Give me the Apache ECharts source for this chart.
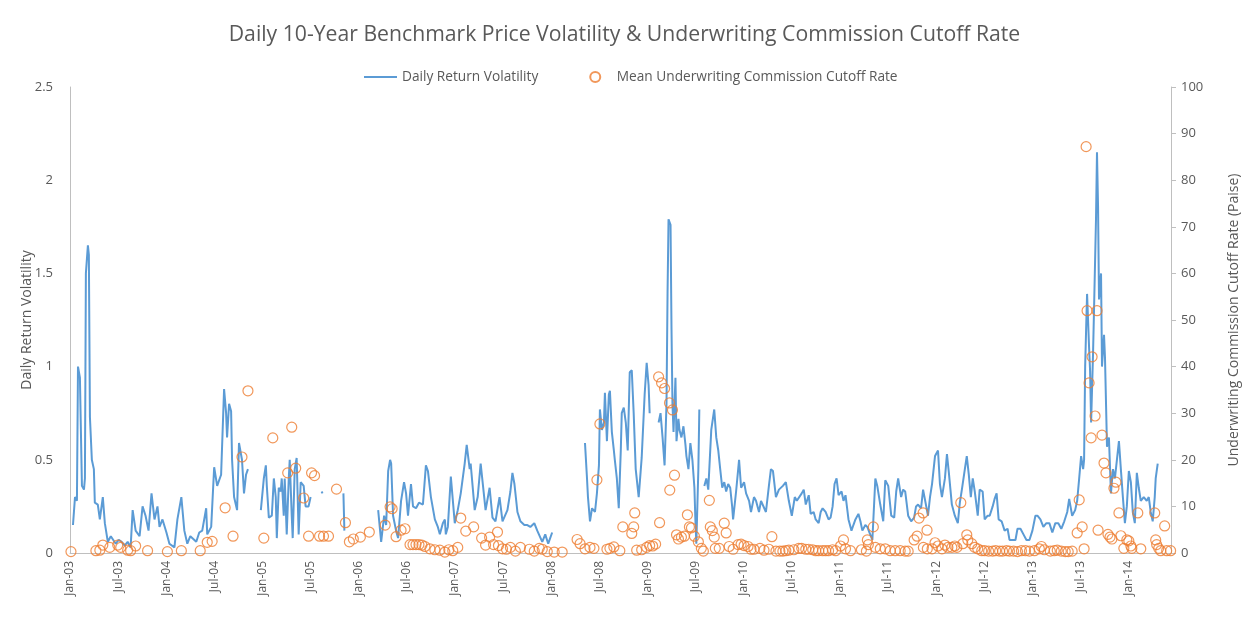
<!DOCTYPE html>
<html>
<head>
<meta charset="utf-8">
<script src="https://cdn.jsdelivr.net/npm/echarts@6/dist/echarts.min.js"></script>
<style>
html,body{margin:0;padding:0;background:#fff;}
#chart{width:1249px;height:628px;}
</style>
</head>
<body>
<div id="chart"></div>
<script>
// Time is expressed in decimal years (e.g. 2008.5 = start of July 2008)
const volDate = [
2003.031,2003.052,2003.072,2003.083,2003.103,2003.124,2003.145,2003.155,2003.165,2003.186,2003.196,2003.207,2003.227,2003.248,2003.258,2003.289,2003.310,2003.341,2003.362,2003.393,2003.424,2003.444,2003.475,2003.506,2003.537,2003.568,2003.599,2003.630,2003.651,2003.682,2003.723,2003.754,2003.785,2003.816,2003.847,2003.878,2003.909,2003.930,2003.961,
2004.002,2004.033,2004.085,2004.116,2004.157,2004.188,2004.219,2004.250,2004.312,2004.343,2004.374,2004.415,2004.426,2004.467,2004.498,2004.529,2004.570,2004.601,2004.622,2004.632,2004.653,2004.674,2004.684,2004.705,2004.725,2004.736,2004.756,2004.787,2004.808,2004.829,2004.849,2004.911,
2004.983,2005.014,2005.035,2005.045,2005.066,2005.097,2005.118,2005.138,2005.149,2005.169,2005.190,2005.200,2005.221,2005.231,2005.252,2005.273,2005.283,2005.304,2005.314,2005.335,2005.355,2005.376,2005.397,2005.428,2005.448,2005.479,2005.500,2005.562,
2005.614,2005.624,2005.738,2005.841,2005.851,2005.996,
2006.202,2006.233,2006.264,2006.285,2006.306,2006.326,2006.337,2006.357,2006.388,2006.409,2006.440,2006.471,2006.492,2006.512,2006.543,2006.564,2006.595,2006.626,2006.667,2006.698,2006.719,2006.750,2006.791,2006.822,2006.843,2006.874,2006.895,2006.905,2006.926,2006.957,2006.977,2006.998,
2007.029,2007.060,2007.101,2007.122,2007.153,2007.163,2007.205,2007.236,2007.267,2007.287,2007.318,2007.360,2007.390,2007.421,2007.463,2007.494,2007.545,2007.576,2007.597,2007.618,2007.649,2007.680,2007.721,2007.752,2007.783,2007.824,2007.855,2007.907,2007.938,2007.969,2008.010,2008.165,
2008.351,2008.372,2008.382,2008.403,2008.424,2008.455,2008.475,2008.496,2008.506,2008.527,2008.548,2008.558,2008.579,2008.599,2008.610,2008.630,2008.651,2008.661,2008.682,2008.702,2008.723,2008.733,2008.754,2008.775,2008.795,2008.816,2008.837,2008.857,2008.878,2008.909,2008.940,2008.971,2008.992,2009.012,2009.023,2009.064,
2009.116,2009.136,2009.157,2009.178,2009.198,2009.209,2009.219,2009.240,2009.250,2009.260,2009.271,2009.291,2009.302,2009.322,2009.333,2009.353,2009.374,2009.395,2009.405,2009.426,2009.446,2009.467,2009.488,2009.498,2009.508,2009.529,2009.539,2009.565,
2009.591,2009.612,2009.632,2009.663,2009.694,2009.715,2009.736,2009.756,2009.777,2009.798,2009.818,2009.839,2009.860,2009.880,2009.890,2009.921,2009.952,2009.973,
2010.004,2010.025,2010.056,2010.076,2010.107,2010.128,2010.159,2010.180,2010.200,2010.231,2010.262,2010.283,2010.304,2010.335,2010.366,2010.386,2010.407,2010.438,2010.469,2010.500,2010.531,2010.552,2010.572,2010.603,2010.624,2010.645,2010.676,2010.696,2010.727,2010.748,2010.779,2010.800,2010.820,2010.851,2010.882,2010.903,2010.924,2010.944,2010.965,2010.986,
2011.017,2011.037,2011.058,2011.089,2011.120,2011.140,2011.161,2011.192,2011.213,2011.233,2011.264,2011.285,2011.306,2011.337,2011.368,2011.388,2011.419,2011.450,2011.471,2011.502,2011.533,2011.564,2011.585,2011.605,2011.636,2011.657,2011.678,2011.709,2011.740,2011.771,2011.791,2011.812,2011.843,2011.864,2011.884,2011.915,2011.936,2011.957,2011.988,
2012.019,2012.039,2012.060,2012.091,2012.112,2012.132,2012.163,2012.194,2012.225,2012.246,2012.267,2012.298,2012.318,2012.339,2012.360,2012.380,2012.401,2012.432,2012.452,2012.483,2012.504,2012.535,2012.556,2012.587,2012.607,2012.628,2012.649,2012.680,2012.711,2012.742,2012.762,2012.793,2012.824,2012.845,2012.876,2012.907,2012.938,2012.969,
2013.000,2013.031,2013.052,2013.083,2013.114,2013.145,2013.176,2013.207,2013.238,2013.269,2013.300,2013.331,2013.362,2013.382,2013.413,2013.444,2013.465,2013.486,2013.506,2013.527,2013.537,2013.548,2013.558,2013.568,2013.589,2013.599,2013.610,2013.630,2013.640,2013.661,2013.671,2013.682,2013.692,2013.713,2013.723,2013.744,2013.754,2013.775,2013.795,2013.816,2013.837,2013.857,2013.878,2013.899,2013.919,2013.940,2013.961,2013.981,
2014.002,2014.023,2014.043,2014.064,2014.085,2014.105,2014.126,2014.157,2014.188,2014.209,2014.229,2014.250,2014.271,2014.281,2014.302
];
const volValue = [
0.15,0.30,0.28,1.00,0.94,0.36,0.34,0.40,1.50,1.65,1.60,0.73,0.50,0.45,0.27,0.26,0.18,0.30,0.16,0.06,0.09,0.08,0.05,0.07,0.06,0.04,0.06,0.03,0.23,0.12,0.09,0.25,0.20,0.12,0.32,0.18,0.25,0.14,0.18,
0.11,0.05,0.03,0.18,0.30,0.12,0.05,0.09,0.06,0.11,0.12,0.24,0.10,0.14,0.46,0.36,0.42,0.88,0.75,0.62,0.80,0.76,0.50,0.30,0.30,0.23,0.59,0.50,0.32,0.42,0.45,null,
0.23,0.40,0.47,0.36,0.19,0.20,0.40,0.30,0.08,0.35,0.33,0.40,0.20,0.40,0.10,0.40,0.50,0.20,0.08,0.45,0.51,0.10,0.38,0.36,0.25,0.25,0.30,null,
0.33,0.32,null,0.32,0.12,null,
0.23,0.06,0.20,0.15,0.44,0.50,0.48,0.20,0.12,0.08,0.28,0.38,0.32,0.20,0.37,0.25,0.24,0.27,0.26,0.47,0.44,0.30,0.18,0.14,0.10,0.16,0.18,0.10,0.14,0.41,0.40,0.16,
0.23,0.32,0.48,0.58,0.45,0.48,0.23,0.30,0.48,0.47,0.23,0.35,0.19,0.17,0.30,0.17,0.23,0.33,0.43,0.37,0.22,0.17,0.15,0.15,0.14,0.16,0.12,0.06,0.10,0.05,0.11,null,
0.59,0.40,0.30,0.17,0.24,0.22,0.32,0.47,0.77,0.66,0.70,0.86,0.60,0.85,0.87,0.65,0.55,0.50,0.40,0.24,0.55,0.75,0.78,0.70,0.55,0.97,0.98,0.75,0.45,0.30,0.51,0.85,1.02,0.90,0.75,null,
0.70,0.75,0.62,0.47,0.80,1.40,1.79,1.76,1.20,0.80,0.65,0.94,0.60,0.72,0.66,0.62,0.68,0.58,0.52,0.45,0.59,0.50,0.35,0.18,0.05,0.45,0.77,null,
0.36,0.40,0.34,0.66,0.77,0.62,0.55,0.45,0.35,0.38,0.33,0.37,0.35,0.25,0.18,0.33,0.50,0.35,
0.38,0.32,0.28,0.22,0.30,0.28,0.22,0.28,0.27,0.22,0.36,0.45,0.44,0.30,0.34,0.35,0.36,0.38,0.28,0.20,0.30,0.28,0.27,0.32,0.34,0.26,0.31,0.21,0.22,0.18,0.16,0.22,0.24,0.22,0.18,0.19,0.25,0.37,0.40,0.31,
0.33,0.28,0.31,0.18,0.12,0.15,0.18,0.21,0.17,0.12,0.15,0.14,0.11,0.07,0.40,0.36,0.26,0.17,0.39,0.36,0.20,0.19,0.33,0.40,0.30,0.34,0.33,0.20,0.17,0.19,0.25,0.26,0.24,0.34,0.33,0.20,0.30,0.37,0.52,
0.55,0.37,0.30,0.40,0.53,0.43,0.26,0.20,0.16,0.27,0.34,0.45,0.52,0.42,0.30,0.40,0.33,0.20,0.34,0.33,0.18,0.20,0.20,0.25,0.29,0.32,0.18,0.17,0.12,0.13,0.07,0.07,0.07,0.13,0.13,0.10,0.07,0.07,
0.12,0.20,0.20,0.18,0.14,0.16,0.16,0.11,0.16,0.16,0.13,0.17,0.22,0.29,0.20,0.23,0.28,0.40,0.52,0.45,0.50,1.00,1.20,1.39,1.10,0.98,0.70,1.07,1.30,1.80,2.15,1.86,1.36,1.50,1.00,1.17,1.05,0.57,0.62,0.32,0.45,0.40,0.50,0.60,0.45,0.30,0.16,0.25,
0.44,0.38,0.22,0.16,0.43,0.35,0.28,0.30,0.28,0.30,0.22,0.17,0.30,0.40,0.48
];

const rateDate = [
2003.010,2003.269,2003.310,2003.341,2003.413,2003.496,2003.527,2003.599,2003.630,2003.682,2003.806,
2004.012,2004.157,2004.353,2004.426,2004.477,2004.612,2004.694,2004.787,2004.849,
2005.014,2005.107,2005.262,2005.304,2005.345,2005.428,2005.479,2005.510,2005.541,2005.593,2005.634,2005.686,2005.769,2005.862,2005.903,2005.944,
2006.017,2006.110,2006.275,2006.326,2006.347,2006.388,2006.440,2006.481,2006.533,2006.564,2006.595,2006.626,2006.657,2006.688,2006.740,2006.791,2006.843,2006.895,2006.936,2006.977,
2007.029,2007.060,2007.112,2007.194,2007.277,2007.318,2007.360,2007.401,2007.442,2007.452,2007.494,2007.535,2007.576,2007.628,2007.680,2007.773,2007.824,2007.876,2007.907,2007.959,
2008.031,2008.114,2008.269,2008.300,2008.351,2008.403,2008.444,2008.475,2008.506,2008.579,2008.610,2008.651,2008.713,2008.744,2008.837,2008.857,2008.868,2008.888,2008.940,2008.992,
2009.023,2009.054,2009.085,2009.116,2009.126,2009.147,2009.178,2009.229,2009.232,2009.260,2009.281,2009.302,2009.322,2009.353,2009.384,2009.415,2009.436,2009.457,2009.488,2009.529,2009.560,2009.581,2009.643,2009.653,2009.674,2009.694,2009.705,2009.746,2009.798,2009.818,2009.849,2009.890,2009.942,2009.973,
2010.004,2010.045,2010.076,2010.107,2010.169,2010.211,2010.262,2010.293,2010.335,2010.376,2010.407,2010.438,2010.469,2010.521,2010.572,2010.603,2010.645,2010.676,2010.717,2010.748,2010.779,2010.820,2010.851,2010.882,2010.924,2010.955,
2011.006,2011.037,2011.058,2011.110,2011.223,2011.275,2011.285,2011.295,2011.347,2011.368,2011.419,2011.471,2011.523,2011.574,2011.626,2011.678,2011.709,2011.771,2011.802,2011.822,2011.864,2011.867,2011.905,2011.908,2011.957,2011.988,
2012.019,2012.060,2012.091,2012.122,2012.163,2012.194,2012.215,2012.256,2012.277,2012.318,2012.329,2012.370,2012.401,2012.432,2012.473,2012.504,2012.545,2012.587,2012.618,2012.659,2012.690,2012.731,2012.762,2012.804,2012.845,2012.886,2012.928,2012.969,
2013.021,2013.072,2013.093,2013.124,2013.186,2013.227,2013.258,2013.300,2013.341,2013.372,2013.413,2013.465,2013.486,2013.517,2013.537,2013.558,2013.568,2013.589,2013.610,2013.620,2013.651,2013.671,2013.682,2013.723,2013.744,2013.764,2013.785,2013.806,2013.826,2013.847,2013.868,2013.899,2013.919,2013.950,2013.981,
2014.002,2014.023,2014.033,2014.095,2014.126,2014.271,2014.281,2014.291,2014.312,2014.333,2014.374,2014.395,2014.436
];
const rateValue = [
0.3,0.5,0.6,1.7,1.2,1.7,1.2,0.6,0.5,1.5,0.5,
0.3,0.5,0.5,2.3,2.5,9.7,3.6,20.6,34.8,
3.2,24.7,17.2,27.0,18.2,11.8,3.6,17.2,16.6,3.6,3.6,3.6,13.7,6.5,2.4,3.0,
3.4,4.5,6.0,9.9,9.5,3.5,4.9,5.2,1.8,1.8,1.8,1.8,1.7,1.4,0.9,0.7,0.6,0.2,0.7,0.5,
1.2,7.5,4.7,5.6,3.2,1.7,3.4,1.8,4.5,1.6,0.9,0.8,1.2,0.4,1.2,0.8,0.4,1.0,0.8,0.3,
0.2,0.2,2.9,2.0,0.9,1.2,1.0,15.7,27.7,0.8,1.0,1.3,0.5,5.6,4.2,5.6,8.6,0.6,0.7,1.2,
1.6,1.5,1.9,37.8,6.5,36.5,35.3,32.2,13.5,30.7,16.7,3.9,3.0,3.4,3.6,8.2,5.6,5.4,3.6,2.4,1.0,0.4,11.3,5.6,4.8,3.4,1.0,1.0,6.4,4.3,1.4,0.8,1.8,1.9,
1.6,1.4,0.8,0.8,1.0,0.6,0.8,3.5,0.4,0.4,0.4,0.5,0.6,0.7,1.0,1.0,0.8,0.8,0.7,0.5,0.5,0.5,0.5,0.5,0.7,0.5,
1.5,2.8,0.9,0.5,0.7,0.4,2.8,1.8,5.6,1.2,0.9,0.9,0.5,0.5,0.5,0.4,0.4,2.8,3.6,7.5,8.6,1.2,4.9,0.9,0.9,2.2,
1.5,0.9,1.7,1.2,1.2,1.5,1.2,10.8,2.0,3.9,2.8,2.0,1.2,0.9,0.5,0.5,0.4,0.4,0.5,0.4,0.4,0.5,0.4,0.4,0.3,0.5,0.5,0.4,
0.5,0.9,1.4,0.7,0.4,0.5,0.6,0.4,0.3,0.3,0.4,4.3,11.4,5.6,0.9,87.2,52.0,36.5,24.7,42.1,29.4,52.0,4.9,25.3,19.3,17.2,4.0,3.4,3.0,13.9,15.2,8.6,3.7,1.0,2.8,
2.6,1.5,1.0,8.6,0.9,8.6,2.8,1.8,1.0,0.5,5.8,0.5,0.5
];

const xMin = 2003, xMax = 2014.44;
const leftTicks = [0, 2.5, 0.5];   // min, max, step
const rightTicks = [0, 100, 10];

const volData = volDate.map((d, i) => [d, volValue[i]]);
const rateData = rateDate.map((d, i) => [d, rateValue[i]]);

const FONT = '"Open Sans", "Liberation Sans", sans-serif';
const GREY = '#595959';

const chart = echarts.init(document.getElementById('chart'), null, {renderer: 'canvas'});
chart.setOption({
  backgroundColor: '#ffffff',
  animation: false,
  title: {
    text: 'Daily 10-Year Benchmark Price Volatility & Underwriting Commission Cutoff Rate',
    left: 'center',
    top: 19,
    textStyle: {fontFamily: FONT, fontSize: 21.2, fontWeight: 'normal', color: GREY}
  },
  legend: {
    top: 65,
    left: 358,
    itemWidth: 33,
    itemHeight: 10,
    itemGap: 51,
    textStyle: {fontFamily: FONT, fontSize: 13.7, color: GREY},
    data: [
      {name: 'Daily Return Volatility', itemStyle: {color: 'rgba(0,0,0,0)', borderWidth: 0, opacity: 0}},
      {name: 'Mean Underwriting Commission Cutoff Rate'}
    ]
  },
  grid: {left: 70, right: 72, top: 87, bottom: 75, containLabel: false},
  xAxis: {
    type: 'value',
    min: xMin,
    max: xMax,
    interval: 0.5,
    splitLine: {show: false},
    axisTick: {show: false},
    axisLine: {lineStyle: {color: '#bfbfbf', width: 1}},
    axisLabel: {
      rotate: 90,
      margin: 8,
      showMaxLabel: false,
      fontFamily: FONT, fontSize: 12, color: GREY,
      formatter: function (v) {
        const y = Math.floor(v + 1e-6);
        const half = (v - y) > 0.25 ? 'Jul-' : 'Jan-';
        return half + String(y).slice(2);
      }
    }
  },
  yAxis: [
    {
      type: 'value',
      min: leftTicks[0], max: leftTicks[1], interval: leftTicks[2],
      name: 'Daily Return Volatility',
      nameLocation: 'middle',
      nameGap: 36,
      nameMoveOverlap: false,
      nameTextStyle: {fontFamily: FONT, fontSize: 14, color: GREY},
      splitLine: {show: false},
      axisTick: {show: false},
      axisLine: {show: true, lineStyle: {color: '#bfbfbf'}},
      axisLabel: {fontFamily: FONT, fontSize: 13, color: GREY, margin: 17}
    },
    {
      type: 'value',
      position: 'right',
      min: rightTicks[0], max: rightTicks[1], interval: rightTicks[2],
      name: 'Underwriting Commission Cutoff Rate (Paise)',
      nameLocation: 'middle',
      nameGap: 56,
      nameRotate: 90,
      nameMoveOverlap: false,
      nameTextStyle: {fontFamily: FONT, fontSize: 14, color: GREY},
      splitLine: {show: false},
      axisTick: {show: true, length: 5, lineStyle: {color: '#bfbfbf'}},
      axisLine: {show: true, lineStyle: {color: '#bfbfbf'}},
      axisLabel: {fontFamily: FONT, fontSize: 13, color: GREY, margin: 10}
    }
  ],
  series: [
    {
      name: 'Daily Return Volatility',
      type: 'line',
      yAxisIndex: 0,
      data: volData,
      symbol: 'none',
      showSymbol: false,
      connectNulls: false,
      lineStyle: {color: '#5B9BD5', width: 2},
      itemStyle: {color: '#5B9BD5'},
      z: 2
    },
    {
      name: 'Mean Underwriting Commission Cutoff Rate',
      type: 'scatter',
      yAxisIndex: 1,
      data: rateData,
      symbol: 'circle',
      symbolSize: 10,
      itemStyle: {color: 'rgba(255,255,255,0)', borderColor: '#ED7D31', borderWidth: 1.2},
      z: 3
    }
  ]
});
</script>
</body>
</html>
